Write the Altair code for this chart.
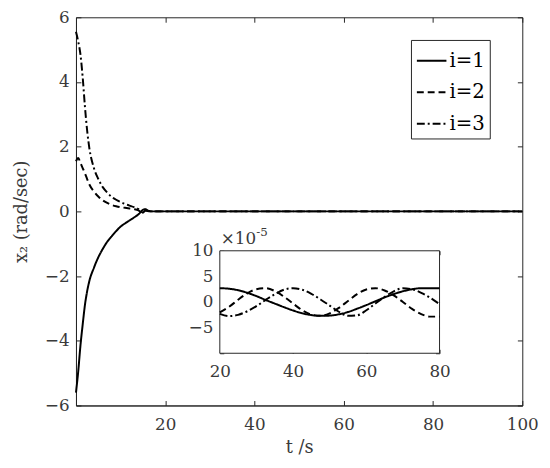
import altair as alt
import pandas as pd

series = ["i=1", "i=2", "i=3"]

# main plot (t in s, x2 in rad/sec)
t_main = [0, 0.5, 1, 1.5, 2, 2.5, 3, 4, 5, 6, 7, 8, 9, 10, 11, 12, 13, 14, 14.5, 15, 15.5, 16, 17, 18, 20, 40, 60, 80, 100]
x2_i1 = [-5.6, -4.95, -4.15, -3.5, -2.9, -2.47, -2.15, -1.75, -1.42, -1.16, -0.94, -0.77, -0.61, -0.47, -0.37, -0.28, -0.19, -0.09, -0.02, 0.05, 0.07, 0.03, 0, 0, 0, 0, 0, 0, 0]
x2_i2 = [1.55, 1.65, 1.5, 1.34, 1.18, 1.0, 0.83, 0.62, 0.46, 0.34, 0.26, 0.2, 0.16, 0.13, 0.11, 0.09, 0.07, 0.03, -0.01, 0.03, 0.05, 0.01, 0, 0, 0, 0, 0, 0, 0]
x2_i3 = [5.55, 5.25, 4.85, 4.15, 3.25, 2.5, 1.95, 1.35, 1.0, 0.75, 0.58, 0.45, 0.36, 0.29, 0.23, 0.18, 0.13, 0.07, 0.01, -0.04, 0.02, 0.03, 0, 0, 0, 0, 0, 0, 0]

# inset (values in units of 1e-5)
t_inset = [20, 22.5, 25, 27.5, 30, 32.5, 35, 37.5, 40, 42.5, 45, 47.5, 50, 52.5, 55, 57.5, 60, 62.5, 65, 67.5, 70, 72.5, 75, 77.5, 80]
in_i1 = [2.7, 2.6, 2.3, 1.8, 1.15, 0.4, -0.3, -1.0, -1.65, -2.2, -2.55, -2.7, -2.65, -2.4, -1.95, -1.3, -0.6, 0.15, 0.9, 1.55, 2.1, 2.5, 2.7, 2.7, 2.7]
in_i2 = [-2.0, -0.95, 0.45, 1.7, 2.5, 2.7, 2.15, 1.05, -0.3, -1.6, -2.45, -2.7, -2.2, -1.15, 0.2, 1.55, 2.45, 2.7, 2.25, 1.3, 0.0, -1.35, -2.35, -2.85, -2.85]
in_i3 = [-2.3, -2.75, -2.5, -1.8, -0.8, 0.4, 1.5, 2.4, 2.7, 2.4, 1.6, 0.5, -0.7, -1.9, -2.7, -2.6, -1.6, -0.3, 1.0, 2.1, 2.7, 2.5, 1.8, 0.8, -0.4]

x_ticks = [20, 40, 60, 80, 100]
y_ticks = [-6, -4, -2, 0, 2, 4, 6]
inset_x_ticks = [20, 40, 60, 80]
inset_y_labels = [-5, 0, 5, 10]
inset_y_ticks = [-10, -5, 0, 5, 10]
inset_box = {"t0": 20, "t1": 80, "v0": -10, "v1": 10}


def long(ts, cols):
    rows = []
    for name, vals in zip(series, cols):
        for t, v in zip(ts, vals):
            rows.append({"t": t, "v": v, "i": name})
    return pd.DataFrame(rows)


main_df = long(t_main, [x2_i1, x2_i2, x2_i3])
inset_df = long(t_inset, [in_i1, in_i2, in_i3])
box_df = pd.DataFrame([inset_box])

W, H = 453, 394
IX0, IX1, IY0, IY1 = 146, 369, 237, 341

AX = "#262626"
TXT = "#3a3a3a"
FONT = "DejaVu Serif"

dash_range = [[1, 0], [7, 4], [8, 3, 2, 3]]

xs = alt.Scale(domain=[0, 100], nice=False, zero=False)
ys = alt.Scale(domain=[-6, 6], nice=False, zero=False)

main_lines = alt.Chart(main_df).mark_line(color="black", strokeWidth=2, interpolate="monotone").encode(
    x=alt.X("t:Q", scale=xs, axis=alt.Axis(values=x_ticks, title="t /s", ticks=False, labelPadding=11,
                                           labelFlush=False, titlePadding=7, orient="bottom")),
    y=alt.Y("v:Q", scale=ys, axis=alt.Axis(values=y_ticks, title="x\u2082 (rad/sec)", ticks=False,
                                           labelPadding=7, titlePadding=14, orient="left")),
    strokeDash=alt.StrokeDash("i:N", scale=alt.Scale(domain=series, range=dash_range),
                              legend=alt.Legend(orient="none", legendX=340, legendY=23, title=None,
                                                symbolType="stroke", symbolSize=900, symbolStrokeWidth=2,
                                                symbolStrokeColor="black", labelFontSize=20, labelFont=FONT,
                                                labelColor="black", strokeColor=AX, fillColor="white",
                                                padding=5, rowPadding=6, labelOffset=2)),
)

ticks_a = alt.Chart(main_df).mark_point(opacity=0).encode(
    x=alt.X("t:Q", scale=xs, axis=alt.Axis(values=x_ticks, orient="top", offset=-H, labels=False,
                                           domain=False, tickSize=5, title=None)),
    y=alt.Y("v:Q", scale=ys, axis=alt.Axis(values=y_ticks, orient="right", offset=-W, labels=False,
                                           domain=False, tickSize=5, title=None)),
)
ticks_b = alt.Chart(main_df).mark_point(opacity=0).encode(
    x=alt.X("t:Q", scale=xs, axis=alt.Axis(values=x_ticks, orient="bottom", offset=-H, labels=False,
                                           domain=False, tickSize=5, title=None)),
    y=alt.Y("v:Q", scale=ys, axis=alt.Axis(values=y_ticks, orient="left", offset=-W, labels=False,
                                           domain=False, tickSize=5, title=None)),
)

main = alt.layer(main_lines, ticks_a, ticks_b).resolve_axis(x="independent", y="independent")

ixs = alt.Scale(domain=[20, 80], range=[IX0, IX1], nice=False, zero=False)
iys = alt.Scale(domain=[-10, 10], range=[IY1, IY0], nice=False, zero=False)

inset_frame = alt.Chart(box_df).mark_rect(fill="white", stroke=AX, strokeWidth=1).encode(
    x=alt.X("t0:Q", scale=ixs, axis=None), x2="t1:Q",
    y=alt.Y("v0:Q", scale=iys, axis=None), y2="v1:Q",
)
inset_lines = alt.Chart(inset_df).mark_line(color="black", strokeWidth=2, interpolate="monotone").encode(
    x=alt.X("t:Q", scale=ixs, axis=alt.Axis(values=inset_x_ticks, orient="bottom", offset=-(H - IY1),
                                            ticks=False, domain=False, labelPadding=11, labelFlush=False,
                                            title=None)),
    y=alt.Y("v:Q", scale=iys, axis=alt.Axis(values=inset_y_labels, orient="left", offset=-IX0,
                                            ticks=False, domain=False, labelPadding=7, title=None)),
    strokeDash=alt.StrokeDash("i:N", scale=alt.Scale(domain=series, range=dash_range), legend=None),
)
inset_ticks_a = alt.Chart(inset_df).mark_point(opacity=0).encode(
    x=alt.X("t:Q", scale=ixs, axis=alt.Axis(values=inset_x_ticks, orient="top", offset=-IY1, labels=False,
                                            domain=False, tickSize=4, title=None)),
    y=alt.Y("v:Q", scale=iys, axis=alt.Axis(values=inset_y_ticks, orient="right", offset=-(W - IX0),
                                            labels=False, domain=False, tickSize=4, title=None)),
)
inset_ticks_b = alt.Chart(inset_df).mark_point(opacity=0).encode(
    x=alt.X("t:Q", scale=ixs, axis=alt.Axis(values=inset_x_ticks, orient="bottom", offset=-(H - IY0),
                                            labels=False, domain=False, tickSize=4, title=None)),
    y=alt.Y("v:Q", scale=iys, axis=alt.Axis(values=inset_y_ticks, orient="left", offset=-IX1,
                                            labels=False, domain=False, tickSize=4, title=None)),
)
exp_base = alt.Chart(box_df).mark_text(text="\u00d710", font=FONT, fontSize=17, color=TXT,
                                         align="left", baseline="bottom", dx=1, dy=-3).encode(
    x=alt.X("t0:Q", scale=ixs, axis=None), y=alt.Y("v1:Q", scale=iys, axis=None))
exp_pow = alt.Chart(box_df).mark_text(text="-5", font=FONT, fontSize=12, color=TXT,
                                        align="left", baseline="bottom", dx=37, dy=-12).encode(
    x=alt.X("t0:Q", scale=ixs, axis=None), y=alt.Y("v1:Q", scale=iys, axis=None))

inset = alt.layer(inset_frame, inset_lines, inset_ticks_a, inset_ticks_b, exp_base, exp_pow).resolve_axis(
    x="independent", y="independent")

chart = alt.layer(main, inset).resolve_scale(
    x="independent", y="independent", strokeDash="independent"
).resolve_legend(strokeDash="independent").properties(
    width=W, height=H,
    autosize=alt.AutoSizeParams(type="none"),
    padding={"left": 69, "top": 6, "right": 20, "bottom": 58},
).configure_view(stroke=AX, strokeWidth=1).configure_axis(
    grid=False, domainColor=AX, tickColor=AX, labelColor=TXT, titleColor=TXT,
    labelFont=FONT, titleFont=FONT, labelFontSize=17, titleFontSize=18, titleFontWeight="normal",
    domainWidth=1, tickWidth=1,
)

chart.save("out.html", embed_options={"renderer": "svg", "actions": False})
